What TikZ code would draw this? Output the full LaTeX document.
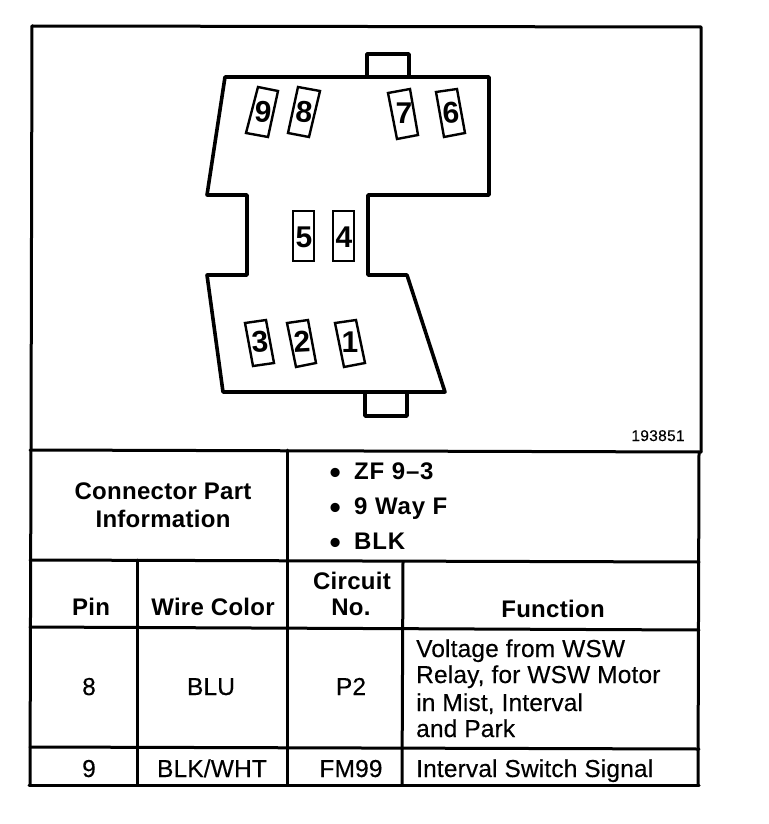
\documentclass[tikz,border=0pt]{standalone}
\usepackage{fontspec}
\setmainfont{Liberation Sans}
\newfontfamily\regfont[LetterSpace=0.6,FakeBold=0.3]{Liberation Sans}
\newfontfamily\boldfont[LetterSpace=1.2]{Liberation Sans Bold}
\newfontfamily\itemfont[LetterSpace=3.5]{Liberation Sans Bold}
\newfontfamily\plainbold{Liberation Sans Bold}
\newfontfamily\smallfont[LetterSpace=2,FakeBold=0.2]{Liberation Sans}
\tikzset{
  rule/.style={line width=3pt,line cap=round,line join=round},
  body/.style={line width=3.6pt,line join=round},
  pinbox/.style={line width=2.4pt,line join=miter},
  digit/.style={inner sep=0pt,font=\fontsize{30}{30}\plainbold},
  head/.style={inner sep=0pt,anchor=base,font=\fontsize{24}{27}\boldfont},
  cell/.style={inner sep=0pt,anchor=base,font=\fontsize{24.5}{27}\regfont},
  cellw/.style={inner sep=0pt,anchor=base west,font=\fontsize{24.5}{27}\regfont},
  item/.style={inner sep=0pt,anchor=base west,font=\fontsize{24}{27}\itemfont},
  bullet/.style={inner sep=0pt,anchor=base west,font=\fontsize{32}{32}\plainbold},
  small/.style={inner sep=0pt,anchor=base,font=\fontsize{15.5}{17}\smallfont}
}
\begin{document}
\begin{tikzpicture}[x=1pt,y=-1pt]
\useasboundingbox (0,0) rectangle (768,824);
% frame and table
\draw[rule] (32,26) -- (701,27) -- (701,452);
\draw[rule] (32,26) -- (31,450) -- (30,785);
\draw[rule] (699,452) -- (698,785);
\draw[rule] (30,450) -- (701,452);
\draw[rule] (30,560) -- (699,562);
\draw[rule] (30,627) -- (699,630);
\draw[rule] (30,747) -- (699,749);
\draw[rule] (29,785) -- (699,785);
\draw[rule] (287,450) -- (287,785);
\draw[rule] (137,560) -- (137,785);
\draw[rule] (403,562) -- (402,785);
% connector body
\draw[body] (225,77) -- (489,77) -- (489,195) -- (368,195) -- (368,275) -- (407,275) -- (445,392) -- (223,392) -- (207,275) -- (247,275) -- (247,195) -- (207,195) -- cycle;
\draw[body] (367,77) -- (367,54) -- (409,54) -- (409,77);
\draw[body] (365,392) -- (365,416) -- (407,416) -- (407,392);
% pins
\draw[pinbox] (258,87) -- (278,91) -- (268,137) -- (246,133) -- cycle;
\draw[pinbox] (298,87) -- (320,91) -- (309,137) -- (288,133) -- cycle;
\draw[pinbox] (388,93) -- (410,89) -- (418,135) -- (397,139) -- cycle;
\draw[pinbox] (436,92) -- (457,89) -- (465,133) -- (444,137) -- cycle;
\draw[pinbox] (293,211) rectangle (314,261);
\draw[pinbox] (333,211) rectangle (354,261);
\draw[pinbox] (245,323) -- (266,320) -- (274,363) -- (253,366) -- cycle;
\draw[pinbox] (287,323) -- (308,320) -- (316,363) -- (296,367) -- cycle;
\draw[pinbox] (335,323) -- (356,320) -- (365,363) -- (344,367) -- cycle;
\node[digit,rotate=-5] (p9) at (263,112) {9};
\node[digit,rotate=-5] (p8) at (304,112) {8};
\node[digit] (p7) at (404,113) {7};
\node[digit,rotate=3] (p6) at (451,113) {6};
\node[digit] (p5) at (304,237) {5};
\node[digit] (p4) at (344,237) {4};
\node[digit,rotate=3] (p3) at (260,342) {3};
\node[digit,rotate=3] (p2) at (302,342) {2};
\node[digit] (p1) at (350,342) {1};
\node[small] (code) at (658,441) {193851};
% table text
\node[head] (cpi1) at (163,499) {Connector Part};
\node[head] (cpi2) at (163,527) {Information};
\node[bullet] (b1) at (329.4,483) {•};
\node[bullet] (b2) at (329.4,518) {•};
\node[bullet] (b3) at (329.4,553) {•};
\node[item] (t1) at (354,479) {ZF 9–3};
\node[item] (t2) at (354,514) {9 Way F};
\node[item] (t3) at (354,549) {BLK};
\node[head] (hpin) at (91,615) {Pin};
\node[head] (hwire) at (213,615) {Wire Color};
\node[head] (hcirc) at (352,589) {Circuit};
\node[head] (hno) at (351,615) {No.};
\node[head] (hfunc) at (553,617) {Function};
\node[cell] (r1pin) at (89,695) {8};
\node[cell] (r1wire) at (211,695) {BLU};
\node[cell] (r1circ) at (351,695) {P2};
\node[cellw] (r1f1) at (416,657) {Voltage from WSW};
\node[cellw] (r1f2) at (416,683) {Relay, for WSW Motor};
\node[cellw] (r1f3) at (416,711) {in Mist, Interval};
\node[cellw] (r1f4) at (416,737) {and Park};
\node[cell] (r2pin) at (89,777) {9};
\node[cell] (r2wire) at (212,777) {BLK/WHT};
\node[cell] (r2circ) at (351,777) {FM99};
\node[cellw] (r2f) at (416,777) {Interval Switch Signal};
\end{tikzpicture}
\end{document}
